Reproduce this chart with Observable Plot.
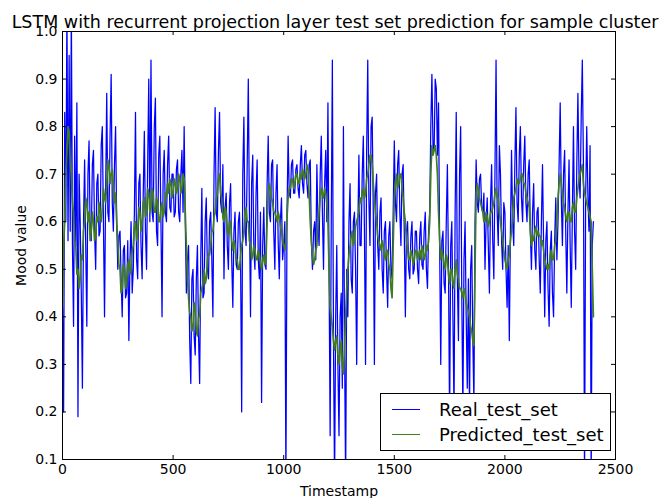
<!DOCTYPE html>
<html>
<head>
<meta charset="utf-8">
<script src="https://cdn.jsdelivr.net/npm/d3@7"></script>
<script src="https://cdn.jsdelivr.net/npm/@observablehq/plot@0.6"></script>
<style>
  html, body { margin: 0; padding: 0; background: #fff; }
  #wrap { position: relative; width: 671px; height: 498px; font-family: "DejaVu Sans", sans-serif; }
  #legend { position: absolute; left: 380px; top: 393px; width: 231px; height: 58px; background: #fff; border: 1px solid #000; box-sizing: border-box; font-size: 18px; color: #000; }
  .row { position: absolute; left: 0; height: 22px; display: flex; align-items: center; white-space: nowrap; }
  .sw { width: 28px; height: 0; margin-left: 11px; margin-right: 19px; }
</style>
</head>
<body>
<div id="wrap"></div>
<script>
const title = "LSTM with recurrent projection layer test set prediction for sample cluster";
const xLabel = "Timestamp";
const yLabel = "Mood value";
const seriesNames = ["Real_test_set", "Predicted_test_set"];
const xTicks = [0, 500, 1000, 1500, 2000, 2500];
const yTicks = [0.1, 0.2, 0.3, 0.4, 0.5, 0.6, 0.7, 0.8, 0.9, 1.0];
const timeStep = 5;

// one row = 50 timestamps
const realValues = [
  0.42, 0.20, 0.83, 0.60, 1.05, 0.56, 0.95, 0.58, 1.05, 0.55,
  0.38, 0.78, 0.55, 0.85, 0.19, 0.70, 0.60, 0.45, 0.25, 0.60,
  0.73, 0.55, 0.38, 0.70, 0.77, 0.58, 0.56, 0.72, 0.75, 0.58,
  0.50, 0.68, 0.70, 0.57, 0.58, 0.76, 0.80, 0.60, 0.40, 0.66,
  0.87, 0.62, 0.60, 0.78, 0.91, 0.64, 0.58, 0.72, 0.80, 0.60,
  0.50, 0.57, 0.58, 0.48, 0.40, 0.54, 0.55, 0.44, 0.45, 0.56,
  0.35, 0.52, 0.60, 0.45, 0.50, 0.62, 0.83, 0.52, 0.48, 0.68,
  0.70, 0.55, 0.48, 0.66, 0.79, 0.58, 0.50, 0.72, 0.90, 0.60,
  0.94, 0.62, 0.60, 0.80, 0.86, 0.58, 0.55, 0.74, 0.78, 0.60,
  0.40, 0.70, 0.75, 0.62, 0.60, 0.72, 0.78, 0.63, 0.62, 0.70,
  0.70, 0.61, 0.62, 0.71, 0.73, 0.62, 0.60, 0.70, 0.75, 0.62,
  0.80, 0.60, 0.45, 0.52, 0.55, 0.35, 0.26, 0.48, 0.50, 0.36,
  0.32, 0.48, 0.55, 0.36, 0.26, 0.52, 0.67, 0.44, 0.45, 0.60,
  0.65, 0.50, 0.48, 0.60, 0.62, 0.52, 0.40, 0.70, 0.84, 0.62,
  0.60, 0.75, 0.83, 0.64, 0.62, 0.72, 0.48, 0.63, 0.66, 0.55,
  0.50, 0.64, 0.68, 0.52, 0.42, 0.58, 0.62, 0.51, 0.50, 0.60,
  0.62, 0.52, 0.20, 0.70, 0.82, 0.58, 0.55, 0.72, 0.90, 0.62,
  0.40, 0.68, 0.74, 0.54, 0.50, 0.66, 0.73, 0.52, 0.48, 0.62,
  0.22, 0.55, 0.63, 0.51, 0.50, 0.68, 0.78, 0.62, 0.60, 0.72,
  0.73, 0.58, 0.50, 0.66, 0.72, 0.56, 0.48, 0.60, 0.65, 0.52,
  0.55, 0.60, 0.05, 0.62, 0.78, 0.66, 0.65, 0.72, 0.73, 0.66,
  0.66, 0.71, 0.72, 0.67, 0.65, 0.72, 0.76, 0.68, 0.66, 0.74,
  0.75, 0.68, 0.65, 0.72, 0.73, 0.56, 0.50, 0.58, 0.60, 0.52,
  0.72, 0.60, 0.55, 0.70, 0.78, 0.62, 0.50, 0.68, 0.75, 0.60,
  0.85, 0.50, 0.15, 0.60, 0.94, 0.35, 0.05, 0.40, 0.55, 0.30,
  0.15, 0.40, 0.45, 0.25, 0.80, 0.35, 0.05, 0.50, 0.40, 0.60,
  0.68, 0.48, 0.45, 0.60, 0.62, 0.50, 0.30, 0.58, 0.74, 0.55,
  0.55, 0.70, 0.78, 0.58, 0.30, 0.75, 0.94, 0.65, 0.55, 0.80,
  0.82, 0.62, 0.30, 0.66, 0.70, 0.55, 0.50, 0.62, 0.65, 0.50,
  0.45, 0.58, 0.60, 0.50, 0.42, 0.57, 0.60, 0.50, 0.48, 0.62,
  0.77, 0.64, 0.60, 0.72, 0.75, 0.62, 0.55, 0.70, 0.72, 0.58,
  0.40, 0.58, 0.60, 0.50, 0.48, 0.57, 0.60, 0.49, 0.50, 0.58,
  0.58, 0.50, 0.47, 0.57, 0.60, 0.51, 0.50, 0.58, 0.62, 0.50,
  0.46, 0.58, 0.62, 0.80, 0.91, 0.76, 0.75, 0.90, 0.88, 0.74,
  0.85, 0.55, 0.30, 0.56, 0.58, 0.47, 0.45, 0.60, 0.72, 0.50,
  0.18, 0.55, 0.60, 0.40, 0.20, 0.62, 0.83, 0.48, 0.35, 0.70,
  0.80, 0.45, 0.20, 0.52, 0.60, 0.40, 0.25, 0.48, 0.20, 0.50,
  0.55, 0.35, 0.22, 0.60, 0.73, 0.64, 0.62, 0.69, 0.70, 0.63,
  0.62, 0.66, 0.50, 0.60, 0.65, 0.55, 0.45, 0.64, 0.72, 0.56,
  0.48, 0.70, 0.94, 0.62, 0.55, 0.76, 0.70, 0.56, 0.50, 0.64,
  0.62, 0.50, 0.42, 0.55, 0.35, 0.58, 0.75, 0.60, 0.55, 0.72,
  0.84, 0.64, 0.60, 0.74, 0.80, 0.65, 0.60, 0.72, 0.78, 0.64,
  0.60, 0.70, 0.73, 0.58, 0.50, 0.62, 0.68, 0.54, 0.50, 0.62,
  0.63, 0.52, 0.45, 0.60, 0.72, 0.55, 0.40, 0.56, 0.60, 0.46,
  0.38, 0.54, 0.58, 0.45, 0.40, 0.56, 0.65, 0.52, 0.60, 0.72,
  0.85, 0.65, 0.55, 0.70, 0.75, 0.58, 0.45, 0.62, 0.73, 0.55,
  0.42, 0.62, 0.80, 0.58, 0.50, 0.72, 0.87, 0.70, 0.65, 0.82,
  0.94, 0.72, 0.05, 0.65, 0.80, 0.66, 0.58, 0.76, 0.05, 0.55,
  0.60
];

const predictedValues = [
  0.42, 0.55, 0.60, 0.70, 0.75, 0.80, 0.79, 0.72, 0.70, 0.64,
  0.62, 0.56, 0.55, 0.49, 0.50, 0.46, 0.48, 0.53, 0.52, 0.58,
  0.60, 0.65, 0.64, 0.60, 0.62, 0.56, 0.58, 0.62, 0.60, 0.56,
  0.57, 0.61, 0.60, 0.64, 0.62, 0.60, 0.63, 0.67, 0.65, 0.64,
  0.68, 0.73, 0.72, 0.68, 0.70, 0.71, 0.68, 0.64, 0.66, 0.60,
  0.56, 0.51, 0.50, 0.45, 0.46, 0.51, 0.50, 0.46, 0.47, 0.51,
  0.52, 0.49, 0.50, 0.54, 0.55, 0.59, 0.60, 0.56, 0.58, 0.63,
  0.62, 0.58, 0.60, 0.64, 0.65, 0.61, 0.62, 0.67, 0.66, 0.62,
  0.63, 0.67, 0.66, 0.62, 0.62, 0.65, 0.64, 0.60, 0.60, 0.63,
  0.64, 0.61, 0.62, 0.66, 0.65, 0.68, 0.66, 0.69, 0.68, 0.65,
  0.66, 0.69, 0.68, 0.66, 0.67, 0.70, 0.69, 0.66, 0.67, 0.70,
  0.69, 0.62, 0.55, 0.48, 0.44, 0.41, 0.40, 0.37, 0.38, 0.43,
  0.42, 0.37, 0.36, 0.40, 0.40, 0.45, 0.46, 0.47, 0.50, 0.47,
  0.48, 0.52, 0.53, 0.53, 0.55, 0.58, 0.58, 0.61, 0.62, 0.65,
  0.66, 0.69, 0.70, 0.66, 0.65, 0.61, 0.60, 0.63, 0.62, 0.58,
  0.57, 0.60, 0.60, 0.56, 0.54, 0.56, 0.55, 0.52, 0.52, 0.50,
  0.50, 0.53, 0.55, 0.56, 0.58, 0.62, 0.63, 0.60, 0.60, 0.56,
  0.55, 0.52, 0.53, 0.55, 0.54, 0.52, 0.52, 0.54, 0.53, 0.51,
  0.50, 0.52, 0.53, 0.51, 0.52, 0.60, 0.66, 0.68, 0.67, 0.65,
  0.64, 0.62, 0.62, 0.61, 0.60, 0.62, 0.61, 0.59, 0.58, 0.56,
  0.55, 0.54, 0.56, 0.61, 0.65, 0.67, 0.67, 0.69, 0.69, 0.67,
  0.68, 0.70, 0.70, 0.68, 0.68, 0.70, 0.69, 0.71, 0.70, 0.69,
  0.70, 0.72, 0.71, 0.66, 0.60, 0.56, 0.53, 0.51, 0.52, 0.54,
  0.55, 0.59, 0.62, 0.65, 0.67, 0.66, 0.65, 0.67, 0.66, 0.64,
  0.60, 0.50, 0.42, 0.40, 0.38, 0.35, 0.33, 0.35, 0.36, 0.32,
  0.30, 0.33, 0.35, 0.30, 0.28, 0.34, 0.40, 0.46, 0.50, 0.53,
  0.55, 0.57, 0.58, 0.55, 0.56, 0.59, 0.60, 0.61, 0.62, 0.65,
  0.64, 0.66, 0.67, 0.65, 0.66, 0.69, 0.70, 0.72, 0.74, 0.74,
  0.72, 0.68, 0.65, 0.62, 0.60, 0.57, 0.56, 0.55, 0.54, 0.56,
  0.55, 0.53, 0.52, 0.54, 0.54, 0.51, 0.50, 0.46, 0.44, 0.55,
  0.65, 0.68, 0.70, 0.67, 0.68, 0.70, 0.70, 0.67, 0.65, 0.62,
  0.60, 0.56, 0.54, 0.52, 0.52, 0.54, 0.53, 0.51, 0.52, 0.54,
  0.54, 0.52, 0.53, 0.54, 0.52, 0.55, 0.54, 0.52, 0.53, 0.55,
  0.54, 0.56, 0.60, 0.70, 0.76, 0.74, 0.75, 0.76, 0.74, 0.70,
  0.62, 0.56, 0.52, 0.54, 0.53, 0.51, 0.50, 0.53, 0.52, 0.49,
  0.47, 0.50, 0.50, 0.47, 0.46, 0.50, 0.52, 0.49, 0.48, 0.46,
  0.46, 0.45, 0.44, 0.46, 0.45, 0.43, 0.42, 0.41, 0.40, 0.38,
  0.37, 0.35, 0.34, 0.50, 0.66, 0.68, 0.67, 0.65, 0.64, 0.63,
  0.62, 0.60, 0.60, 0.62, 0.61, 0.59, 0.60, 0.62, 0.62, 0.63,
  0.64, 0.66, 0.67, 0.65, 0.65, 0.62, 0.60, 0.58, 0.56, 0.54,
  0.52, 0.51, 0.50, 0.52, 0.53, 0.56, 0.58, 0.62, 0.65, 0.66,
  0.67, 0.69, 0.68, 0.68, 0.69, 0.70, 0.70, 0.68, 0.68, 0.66,
  0.65, 0.64, 0.63, 0.58, 0.55, 0.57, 0.56, 0.58, 0.59, 0.57,
  0.58, 0.57, 0.57, 0.55, 0.56, 0.54, 0.52, 0.51, 0.50, 0.51,
  0.50, 0.53, 0.54, 0.52, 0.52, 0.55, 0.56, 0.61, 0.65, 0.68,
  0.70, 0.68, 0.66, 0.64, 0.63, 0.61, 0.60, 0.62, 0.62, 0.60,
  0.60, 0.63, 0.64, 0.62, 0.62, 0.65, 0.67, 0.69, 0.70, 0.71,
  0.72, 0.68, 0.66, 0.65, 0.64, 0.63, 0.62, 0.61, 0.60, 0.50,
  0.40
];

const colors = ["#0000ff", "#3f7d1f"];

const real = realValues.map((v, i) => ({t: i * timeStep, v}));
const pred = predictedValues.map((v, i) => ({t: i * timeStep, v}));

const W = 671, H = 498;
const mL = 62, mR = 56, mT = 31, mB = 39;
const fw = W - mL - mR, fh = H - mT - mB;
const tk = 4;

const chart = Plot.plot({
  width: W, height: H,
  marginLeft: mL, marginRight: mR, marginTop: mT, marginBottom: mB,
  style: {fontFamily: "DejaVu Sans, sans-serif", fontSize: "14px", color: "#000", background: "#fff", overflow: "visible"},
  x: {domain: [0, 2500]},
  y: {domain: [0.1, 1.0]},
  marks: [
    Plot.lineY(real, {x: "t", y: "v", stroke: colors[0], strokeWidth: 1.25, clip: true}),
    Plot.lineY(pred, {x: "t", y: "v", stroke: colors[1], strokeWidth: 1.7, clip: true}),
    Plot.frame({stroke: "#000", strokeWidth: 1}),
    Plot.tickX(xTicks, {x: d => d, insetTop: fh - tk, stroke: "#000"}),
    Plot.tickX(xTicks, {x: d => d, insetBottom: fh - tk, stroke: "#000"}),
    Plot.tickY(yTicks, {y: d => d, insetRight: fw - tk, stroke: "#000"}),
    Plot.tickY(yTicks, {y: d => d, insetLeft: fw - tk, stroke: "#000"}),
    Plot.axisX({ticks: xTicks, tickSize: 0, tickPadding: 5, tickFormat: d => String(d), fontSize: 14,
      label: xLabel, labelAnchor: "center", labelArrow: "none", labelOffset: 36}),
    Plot.axisY({ticks: yTicks, tickSize: 0, tickPadding: 5, tickFormat: d => d.toFixed(1), fontSize: 14,
      label: yLabel, labelAnchor: "center", labelArrow: "none", labelOffset: 46}),
    Plot.text([title], {text: d => d, frameAnchor: "top", dy: -16, dx: -4, fontSize: 17.5, fill: "#000"})
  ]
});

const wrap = document.getElementById("wrap");
wrap.appendChild(chart);

const legend = document.createElement("div");
legend.id = "legend";
seriesNames.forEach((name, i) => {
  const row = document.createElement("div");
  row.className = "row";
  row.style.top = (i === 0 ? 4 : 29) + "px";
  const sw = document.createElement("div");
  sw.className = "sw";
  sw.style.borderTop = "1.5px solid " + colors[i];
  const tx = document.createElement("span");
  tx.textContent = name;
  row.appendChild(sw);
  row.appendChild(tx);
  legend.appendChild(row);
});
wrap.appendChild(legend);
</script>
</body>
</html>
